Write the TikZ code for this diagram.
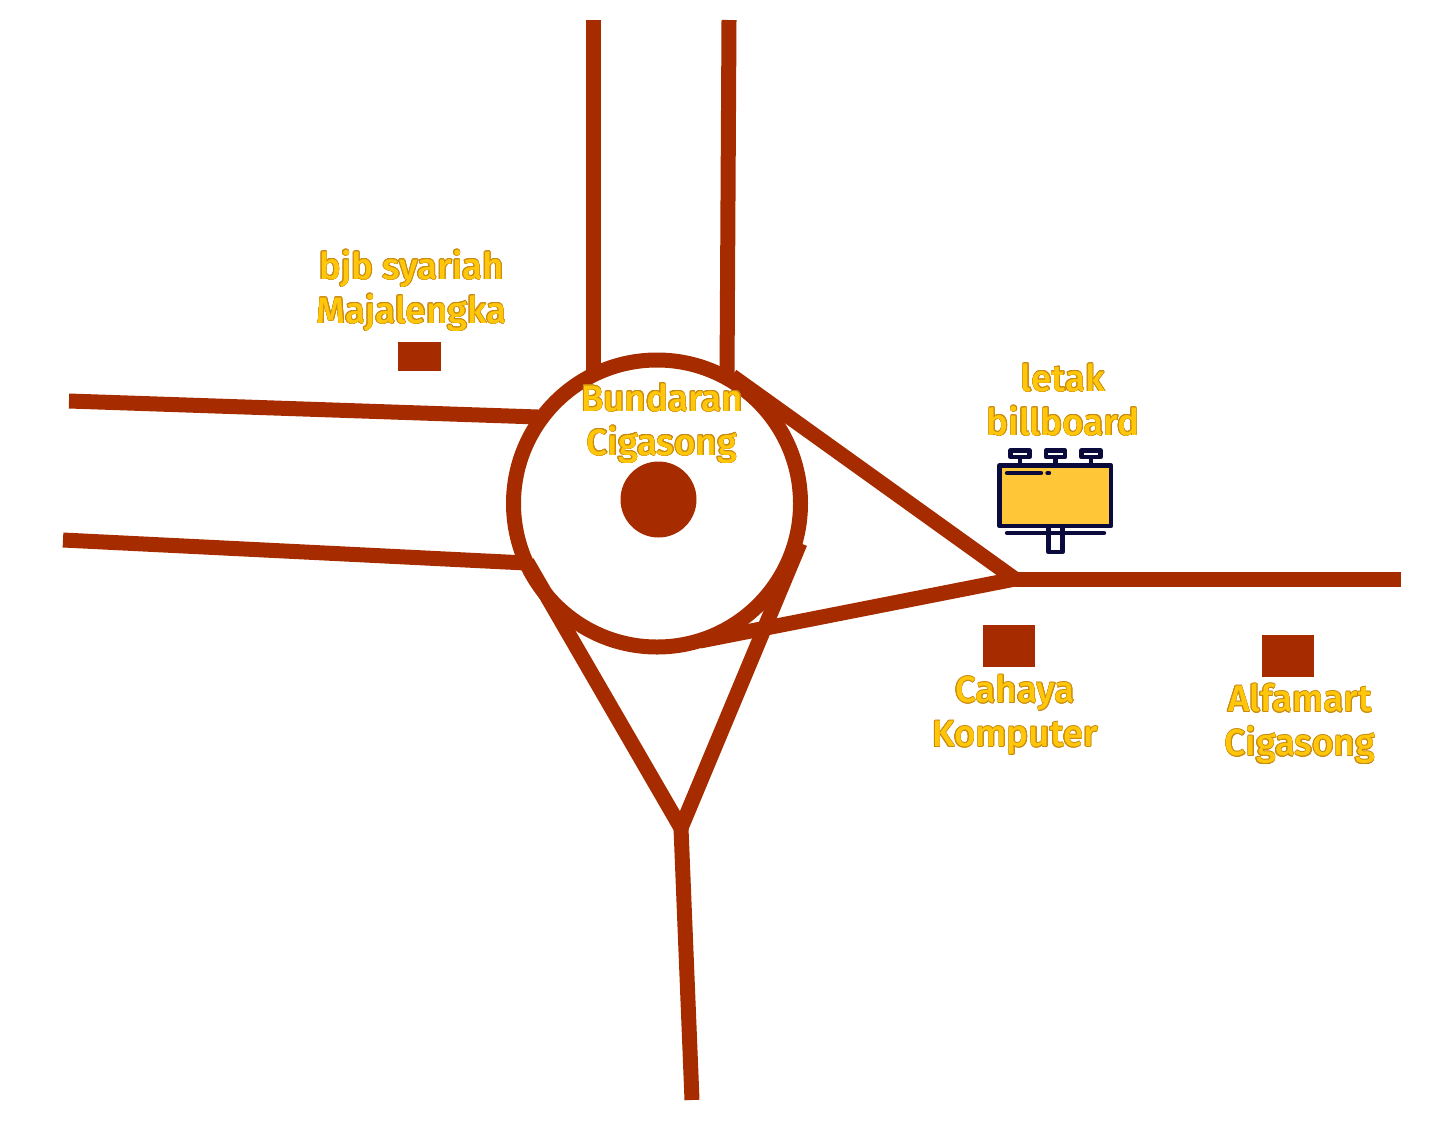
\documentclass[tikz,border=0pt]{standalone}
\usepackage{fontspec}
\newfontfamily\mapfont{Fira Sans Medium}
\usepackage[copies]{contour}
\usetikzlibrary{positioning}
\definecolor{roadred}{HTML}{A62C00}
\definecolor{labelyellow}{HTML}{FFC60A}
\definecolor{labeledge}{HTML}{C98A10}
\definecolor{boardnavy}{HTML}{0A0A3C}
\definecolor{boardyellow}{HTML}{FFC738}
\contourlength{0.3pt}
\contournumber{16}
\newcommand{\maplabel}[1]{\contour{labeledge}{#1}}
\tikzset{
  road/.style={draw=roadred, line width=7.5pt},
  gedung/.style={fill=roadred, inner sep=0pt},
  maptext/.style={text=labelyellow, align=center, font=\mapfont\fontsize{18.4}{22}\selectfont, inner sep=0pt},
  boardline/.style={draw=boardnavy, line width=2.2pt, line join=round}
}
\begin{document}
\begin{tikzpicture}[x=0.5pt, y=-0.5pt]
  \useasboundingbox (0,0) rectangle (1456,1125);
  % jalan
  \draw[road] (593,20) -- (593,372);
  \draw[road] (729,20) -- (727,378);
  \draw[road] (69,401) -- (538,417);
  \draw[road] (63,540) -- (526,563);
  \coordinate (kanan) at (1015,579);
  \coordinate (bawah) at (681,828);
  \draw[road] (1015,579) -- (1401,579);
  \draw[road] (732,376) -- (kanan);
  \draw[road] (700,641) -- (kanan);
  \draw[road] (527,562) -- (bawah);
  \draw[road] (800,543) -- (bawah);
  \draw[road] (bawah) -- (692,1100);
  % bundaran
  \draw[road] (657,503.5) circle (71.75pt);
  \fill[roadred] (658.5,499.5) circle (19pt);
  % gedung
  \node[gedung, minimum width=21.5pt, minimum height=14.5pt] (bjb) at (419.5,356.5) {};
  \node[gedung, minimum width=26pt, minimum height=21pt] (cahaya) at (1009,646) {};
  \node[gedung, minimum width=26pt, minimum height=21pt] (alfamart) at (1288,656) {};
  % billboard
  \filldraw[boardline, fill=boardyellow] (999.5,465.5) rectangle (1111,526);
  \foreach \x in {1020,1055.5,1091}{
    \draw[boardline] (\x-9.5,450.5) rectangle (\x+9.5,457);
    \draw[boardline] (\x,457) -- (\x,465);
  }
  \draw[boardline, line cap=round] (1007,473) -- (1041,473);
  \draw[boardline, line cap=round] (1047.5,473) -- (1049,473);
  \draw[boardline, line cap=round] (1007,533) -- (1104,533);
  \draw[boardline] (1048.5,526) rectangle (1062.5,552);
  % label
  \node[maptext] (lblbjb) at (411.5,291) {\maplabel{bjb syariah}\\\maplabel{Majalengka}};
  \node[maptext] (lblbundaran) at (662,423.5) {\maplabel{Bundaran}\\\maplabel{Cigasong}};
  \node[maptext] (lblboard) at (1063,400) {\maplabel{letak}\\\maplabel{billboard}};
  \node[maptext] (lblcahaya) at (1015,715) {\maplabel{Cahaya}\\\maplabel{Komputer}};
  \node[maptext] (lblalfamart) at (1300,724) {\maplabel{Alfamart}\\\maplabel{Cigasong}};
\end{tikzpicture}
\end{document}
